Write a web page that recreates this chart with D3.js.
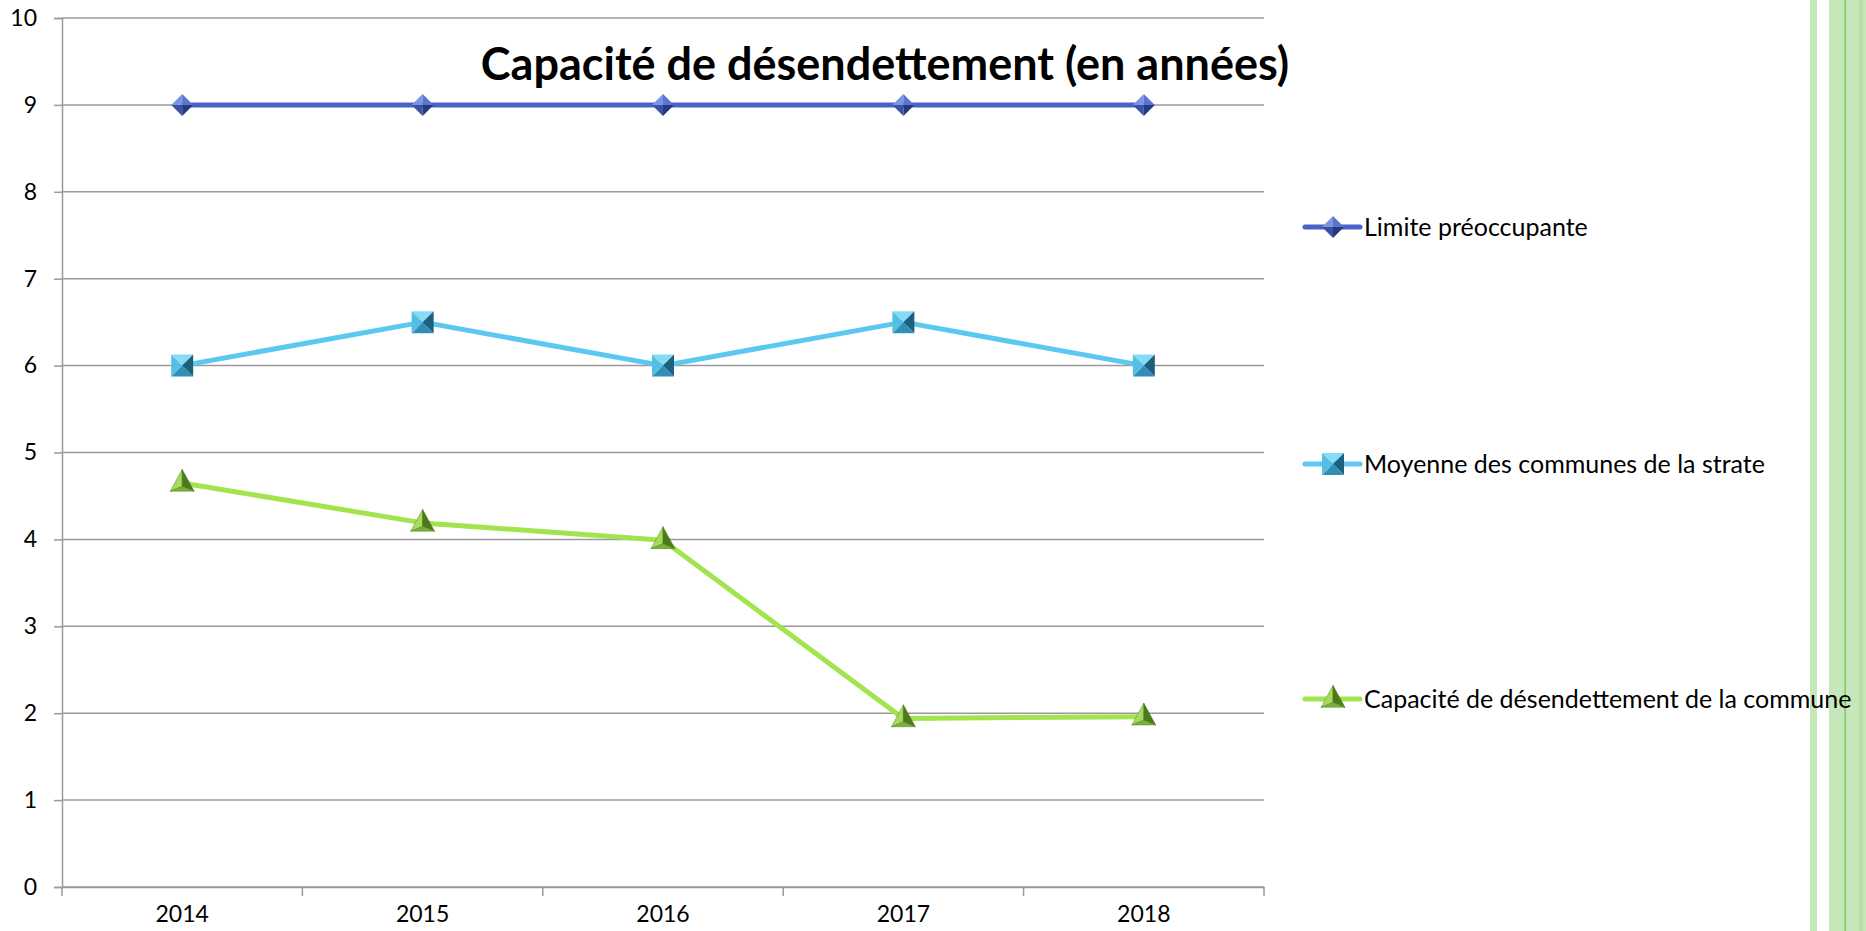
<!DOCTYPE html>
<html><head><meta charset="utf-8">
<script src="https://cdn.jsdelivr.net/npm/d3@7"></script>
<style>body{margin:0;background:#fff;}svg{display:block;}</style>
</head><body>
<svg id="c" width="1866" height="931"></svg>
<script>
const years = ["2014","2015","2016","2017","2018"];
const limite = [9, 9, 9, 9, 9];
const moyenne = [6, 6.5, 6, 6.5, 6];
const commune = [4.65, 4.19, 3.99, 1.94, 1.96];
const yTicks = [0,1,2,3,4,5,6,7,8,9,10];
const seriesNames = ["Limite préoccupante","Moyenne des communes de la strate","Capacité de désendettement de la commune"];
const title = "Capacité de désendettement (en années)";

const svg = d3.select("#c");
const FONT = "Lato, 'Open Sans', sans-serif";
const M = {l:62, r:1264, t:18, b:887};
const x = d3.scaleBand().domain(years).range([M.l, M.r]);
const y = d3.scaleLinear().domain([0,10]).range([M.b, M.t]);

// right decorative bars
svg.append("rect").attr("x",1810).attr("y",0).attr("width",7).attr("height",931).attr("fill","#c6e7b9");
svg.append("rect").attr("x",1829).attr("y",0).attr("width",37).attr("height",931).attr("fill","#c6e7b9");
svg.append("rect").attr("x",1859).attr("y",0).attr("width",4).attr("height",931).attr("fill","#b5dfa4");
svg.append("rect").attr("x",1844.5).attr("y",0).attr("width",1.2).attr("height",931).attr("fill","#6cc24a");

// gridlines
svg.append("g").selectAll("line").data(yTicks).join("line")
  .attr("x1",M.l).attr("x2",M.r).attr("y1",d=>y(d)).attr("y2",d=>y(d))
  .attr("stroke","#9a9a9a").attr("stroke-width",1.5);

// y axis
const ya = svg.append("g").attr("transform",`translate(${M.l},0)`)
  .call(d3.axisLeft(y).tickValues(yTicks).tickSize(8).tickPadding(17).tickFormat(d3.format("d")));
ya.select(".domain").attr("stroke","#9a9a9a").attr("stroke-width",1.5);
ya.selectAll(".tick line").attr("stroke","#9a9a9a").attr("stroke-width",1.5);
ya.selectAll("text").attr("font-family",FONT).attr("font-size",23).attr("fill","#000");

// x axis
const xa = svg.append("g").attr("transform",`translate(0,${M.b})`)
  .call(d3.axisBottom(x).tickSize(0).tickPadding(19));
xa.select(".domain").attr("stroke","#9a9a9a").attr("stroke-width",1.5);
xa.selectAll("text").attr("font-family",FONT).attr("font-size",23).attr("fill","#000");
const bounds = years.map(d=>x(d)).concat([x(years[4])+x.bandwidth()]);
xa.append("g").selectAll("line").data(bounds).join("line")
  .attr("x1",d=>d).attr("x2",d=>d).attr("y1",0).attr("y2",9)
  .attr("stroke","#9a9a9a").attr("stroke-width",1.5);

const cx = d => x(d) + x.bandwidth()/2;

// marker shapes
function diamond(g, px, py){
  const r=11;
  const P=(a,b)=>`${px+a},${py+b}`;
  const faces=[
    [[0,-r],[0,0],[-r,0],"#7c95e2"],
    [[0,-r],[r,0],[0,0],"#5a74d0"],
    [[r,0],[0,r],[0,0],"#25397e"],
    [[0,r],[-r,0],[0,0],"#3a53a6"]];
  faces.forEach(f=>g.append("polygon").attr("points",[P(...f[0]),P(...f[1]),P(...f[2])].join(" ")).attr("fill",f[3]));
}
function square(g, px, py){
  const r=11;
  const P=(a,b)=>`${px+a},${py+b}`;
  const faces=[
    [[-r,-r],[r,-r],[0,0],"#86dcf6"],
    [[r,-r],[r,r],[0,0],"#1d5f7c"],
    [[r,r],[-r,r],[0,0],"#2f8fb6"],
    [[-r,r],[-r,-r],[0,0],"#55bfe3"]];
  faces.forEach(f=>g.append("polygon").attr("points",[P(...f[0]),P(...f[1]),P(...f[2])].join(" ")).attr("fill",f[3]));
}
function triangle(g, px, py){
  const w=12, h=22;
  const top=[0,-h*0.62], bl=[-w,h*0.38], br=[w,h*0.38], c=[0,h*0.16];
  const P=(a,b)=>`${px+a},${py+b}`;
  const faces=[[top,c,bl,"#a6dc5c"],[top,br,c,"#4e7a1e"],[bl,c,br,"#78b236"]];
  faces.forEach(f=>g.append("polygon").attr("points",[P(...f[0]),P(...f[1]),P(...f[2])].join(" ")).attr("fill",f[3]).attr("stroke","#4a6e1c").attr("stroke-width",0.4));
}

const series = [
  {name:seriesNames[0], vals:limite, color:"#4763c8", marker:diamond},
  {name:seriesNames[1], vals:moyenne, color:"#5bc8ef", marker:square},
  {name:seriesNames[2], vals:commune, color:"#a2e44e", marker:triangle}
];
const line = d3.line().x((d,i)=>cx(years[i])).y(d=>y(d));
series.forEach(s=>{
  svg.append("path").datum(s.vals).attr("d",line).attr("fill","none")
    .attr("stroke",s.color).attr("stroke-width",5).attr("stroke-linejoin","round");
});
series.forEach(s=>{
  const g = svg.append("g");
  s.vals.forEach((v,i)=>s.marker(g, cx(years[i]), y(v)));
});

// title
svg.append("text").attr("x",885).attr("y",80).attr("text-anchor","middle")
  .attr("font-family",FONT).attr("font-weight","bold").attr("font-size",45).attr("fill","#000").text(title);

// legend
const legY = [227, 464, 699];
series.forEach((s,i)=>{
  const g = svg.append("g");
  g.append("line").attr("x1",1305).attr("x2",1360).attr("y1",legY[i]).attr("y2",legY[i])
    .attr("stroke",s.color).attr("stroke-width",5).attr("stroke-linecap","round");
  s.marker(g, 1333, legY[i]);
  g.append("text").attr("x",1364).attr("y",legY[i]).attr("dy","0.35em")
    .attr("font-family",FONT).attr("font-size",25).attr("fill","#000").text(s.name);
});
</script>
</body></html>
